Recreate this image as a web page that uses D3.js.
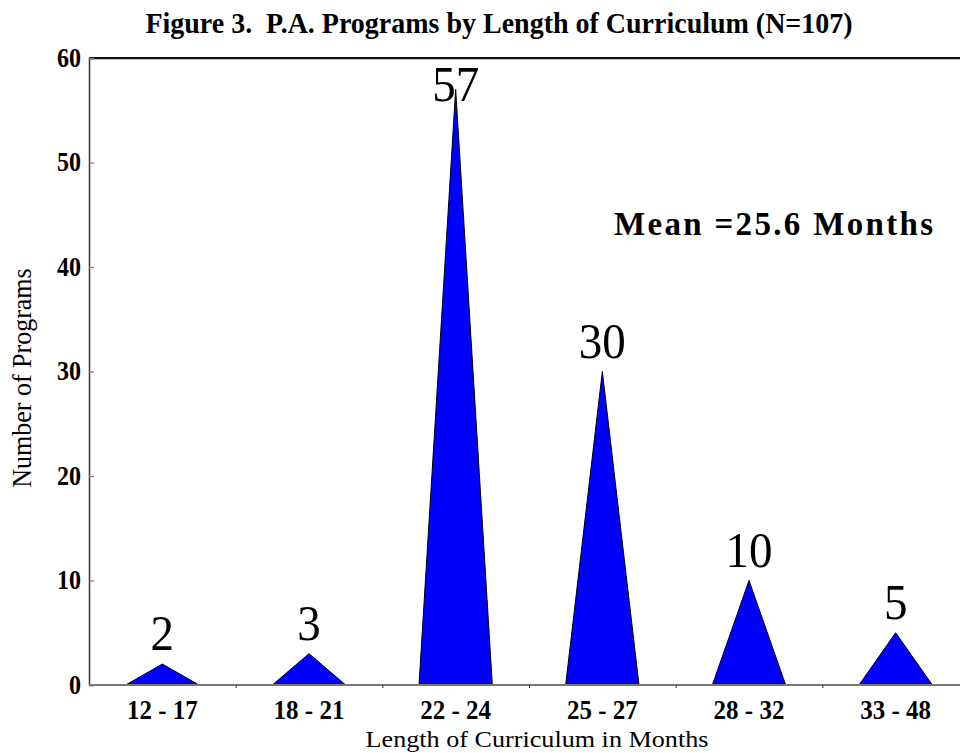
<!DOCTYPE html>
<html><head><meta charset="utf-8">
<script src="https://cdn.jsdelivr.net/npm/d3@7"></script>
<style>body{margin:0;background:#fff}svg{display:block}</style>
</head><body>
<svg id="c" width="960" height="753"></svg>
<script>
const categories = ["12 - 17","18 - 21","22 - 24","25 - 27","28 - 32","33 - 48"];
const counts = [2, 3, 57, 30, 10, 5];
const yTicks = [0, 10, 20, 30, 40, 50, 60];
const titleText = "Figure 3.  P.A. Programs by Length of Curriculum (N=107)";
const meanText = "Mean =25.6 Months";
const xTitle = "Length of Curriculum in Months";
const yTitle = "Number of Programs";

(function(){
const svg = d3.select("#c");
const mL = 89, mR = 969, mT = 58, mB = 685;
const serif = "Liberation Serif";

const x = d3.scaleBand().domain(categories).range([mL, mR]);
const y = d3.scaleLinear().domain([0, 60]).range([mB, mT]);
const bw = x.bandwidth();

// top frame line
svg.append("line").attr("x1", mL).attr("x2", 960).attr("y1", mT).attr("y2", mT)
  .attr("stroke", "#111").attr("stroke-width", 2);
svg.append("line").attr("x1", mL).attr("x2", 960).attr("y1", mT + 1.6).attr("y2", mT + 1.6)
  .attr("stroke", "#bbb").attr("stroke-width", 1);

// triangles
svg.append("g").selectAll("path").data(counts).join("path")
  .attr("d", (d, i) => {
    const c = x(categories[i]) + bw / 2;
    return `M${c - bw/4},${y(0)}L${c},${y(d)}L${c + bw/4},${y(0)}Z`;
  })
  .attr("fill", "#0000ff").attr("stroke", "#000").attr("stroke-width", 1);

// y axis
const ya = svg.append("g").attr("transform", `translate(${mL},0)`)
  .call(d3.axisRight(y).tickValues(yTicks).tickSize(5).tickFormat(""));
ya.select(".domain").attr("stroke", "#333").attr("stroke-width", 1.5);
ya.selectAll(".tick line").attr("stroke", "#777").attr("stroke-width", 1.2);
svg.append("g").selectAll("text").data(yTicks).join("text")
  .attr("transform", d => `translate(81,${y(d) + 8.5}) scale(1,1.15)`)
  .attr("text-anchor", "end").attr("font-family", serif).attr("font-weight", "bold")
  .attr("font-size", 24).text(d => d);

// x axis
svg.append("line").attr("x1", mL).attr("x2", 960).attr("y1", mB).attr("y2", mB)
  .attr("stroke", "#777").attr("stroke-width", 2);
const xa = svg.append("g").attr("transform", `translate(0,${mB})`)
  .call(d3.axisBottom(d3.scaleLinear().domain([0, 6]).range([mL, mR]))
    .tickValues([1, 2, 3, 4, 5]).tickSize(3).tickFormat(""));
xa.select(".domain").remove();
xa.selectAll(".tick line").attr("stroke", "#333");
svg.append("g").selectAll("text").data(categories).join("text")
  .attr("transform", d => `translate(${x(d) + bw/2},719) scale(1,1.12)`)
  .attr("text-anchor", "middle").attr("font-family", serif).attr("font-weight", "bold")
  .attr("font-size", 25).text(d => d);

// value labels
svg.append("g").selectAll("text").data(counts).join("text")
  .attr("transform", (d, i) => `translate(${x(categories[i]) + bw/2},${Math.max(y(d) - 14, mT + 43)}) scale(1,1.1)`)
  .attr("text-anchor", "middle").attr("font-family", serif)
  .attr("font-size", 47).text(d => d);

// title
svg.append("text").attr("transform", "translate(499,33) scale(1,1.08)")
  .attr("text-anchor", "middle").attr("font-family", serif).attr("font-weight", "bold")
  .attr("font-size", 28).style("white-space", "pre").text(titleText);

// mean annotation
svg.append("text").attr("transform", "translate(614,235) scale(1,1.05)")
  .attr("font-family", serif).attr("font-weight", "bold").attr("font-size", 33)
  .attr("textLength", 319).attr("lengthAdjust", "spacing").text(meanText);

// axis titles
svg.append("text").attr("transform", "translate(537,747) scale(1.09,1)")
  .attr("text-anchor", "middle").attr("font-family", serif).attr("font-size", 24).text(xTitle);
svg.append("text").attr("transform", "translate(31,378) rotate(-90) scale(1,1.05)")
  .attr("text-anchor", "middle").attr("font-family", serif).attr("font-size", 26).text(yTitle);
})();
</script>
</body></html>
